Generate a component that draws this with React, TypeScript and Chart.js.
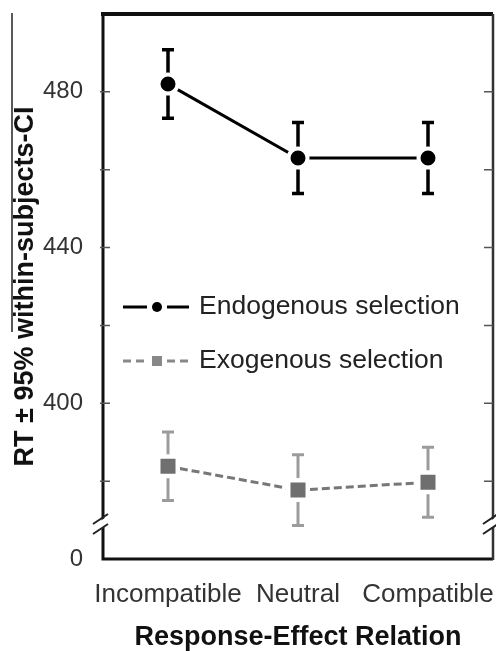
import React, { useEffect, useRef } from 'react';
import { Chart, registerables } from 'chart.js';

Chart.register(...registerables);

const categories = ['Incompatible', 'Neutral', 'Compatible'];
const endoLabel = 'Endogenous selection';
const exoLabel = 'Exogenous selection';
const endoRT = [482, 463, 463];
const endoCI = [8.8, 9.1, 9.1];
const exoRT = [383.8, 377.7, 379.7];
const exoCI = [8.8, 9.1, 9.0];
const yMin = 360;
const yMax = 500;
const yStep = 20;
const yTickLabels: Record<number, string> = { 360: '0', 400: '400', 440: '440', 480: '480' };
const yTickMarks = [380, 400, 420, 440, 460, 480];
const yBreakValue = 369;
const xTitle = 'Response-Effect Relation';
const yTitle = 'RT ± 95% within-subjects-CI';

const FONT = "'Liberation Sans', Arial, Helvetica, sans-serif";

const errorBars = [
  { ci: endoCI, color: '#000000', width: 3.5, cap: 6 },
  { ci: exoCI, color: '#9c9c9c', width: 3, cap: 6 },
];

const decor = {
  id: 'decor',
  beforeDatasetsDraw(chart: any) {
    const ctx = chart.ctx;
    const xs = chart.scales.x;
    const ys = chart.scales.y;
    chart.data.datasets.forEach((ds: any, i: number) => {
      const eb = errorBars[i];
      ctx.save();
      ctx.strokeStyle = eb.color;
      ctx.lineWidth = eb.width;
      ds.data.forEach((v: number, j: number) => {
        const px = xs.getPixelForValue(j);
        const top = ys.getPixelForValue(v + eb.ci[j]);
        const bot = ys.getPixelForValue(v - eb.ci[j]);
        ctx.beginPath();
        ctx.moveTo(px, top);
        ctx.lineTo(px, bot);
        ctx.moveTo(px - eb.cap, top);
        ctx.lineTo(px + eb.cap, top);
        ctx.moveTo(px - eb.cap, bot);
        ctx.lineTo(px + eb.cap, bot);
        ctx.stroke();
      });
      ctx.restore();
    });
  },
  afterDraw(chart: any) {
    const ctx = chart.ctx;
    const xs = chart.scales.x;
    const ys = chart.scales.y;
    const { left: L, right: R, top: T, bottom: B } = chart.chartArea;
    ctx.save();
    // frame
    ctx.strokeStyle = '#111';
    ctx.lineCap = 'butt';
    ctx.lineWidth = 4;
    ctx.beginPath();
    ctx.moveTo(L - 2, T);
    ctx.lineTo(R, T);
    ctx.stroke();
    ctx.lineWidth = 3;
    ctx.beginPath();
    ctx.moveTo(L, T);
    ctx.lineTo(L, B);
    ctx.lineTo(R, B);
    ctx.stroke();
    ctx.strokeStyle = '#333';
    ctx.lineWidth = 2.5;
    ctx.beginPath();
    ctx.moveTo(R, T);
    ctx.lineTo(R, B + 1);
    ctx.stroke();
    // tick marks
    ctx.strokeStyle = '#555';
    ctx.lineWidth = 1.5;
    yTickMarks.forEach((v) => {
      const py = ys.getPixelForValue(v);
      ctx.beginPath();
      ctx.moveTo(L - 3, py);
      ctx.lineTo(L + 7, py);
      ctx.moveTo(R - 9, py);
      ctx.lineTo(R, py);
      ctx.stroke();
    });
    // axis breaks
    const yb = ys.getPixelForValue(yBreakValue);
    [L, R].forEach((ax) => {
      ctx.fillStyle = '#fff';
      ctx.beginPath();
      ctx.moveTo(ax - 9, yb + 1);
      ctx.lineTo(ax + 5, yb - 8);
      ctx.lineTo(ax + 5, yb + 1);
      ctx.lineTo(ax - 9, yb + 9);
      ctx.closePath();
      ctx.fill();
      ctx.strokeStyle = '#222';
      ctx.lineWidth = 2;
      ctx.beginPath();
      ctx.moveTo(ax - 10, yb);
      ctx.lineTo(ax + 5, yb - 10);
      ctx.moveTo(ax - 10, yb + 10);
      ctx.lineTo(ax + 5, yb);
      ctx.stroke();
    });
    // y tick labels
    ctx.fillStyle = '#333';
    ctx.font = `24px ${FONT}`;
    ctx.textAlign = 'right';
    ctx.textBaseline = 'middle';
    ys.ticks.forEach((t: any) => {
      const lab = yTickLabels[t.value];
      if (lab) ctx.fillText(lab, L - 20, ys.getPixelForValue(t.value));
    });
    // x tick labels
    ctx.font = `26px ${FONT}`;
    ctx.textAlign = 'center';
    ctx.textBaseline = 'alphabetic';
    chart.data.labels.forEach((lab: string, j: number) => {
      ctx.fillText(lab, xs.getPixelForValue(j), B + 43);
    });
    // legend
    const legendItems = [
      { text: chart.data.datasets[0].label, y: 307, color: '#000', dash: [] as number[], style: 'circle' },
      { text: chart.data.datasets[1].label, y: 361, color: '#888', dash: [8, 5], style: 'rect' },
    ];
    legendItems.forEach((it) => {
      const x0 = L + 20;
      const x1 = L + 86;
      const cx = L + 54;
      ctx.strokeStyle = it.color;
      ctx.lineWidth = 3;
      ctx.setLineDash(it.dash);
      ctx.beginPath();
      ctx.moveTo(x0, it.y);
      ctx.lineTo(cx - 10, it.y);
      ctx.moveTo(cx + 10, it.y);
      ctx.lineTo(x1, it.y);
      ctx.stroke();
      ctx.setLineDash([]);
      ctx.fillStyle = it.color;
      if (it.style === 'circle') {
        ctx.beginPath();
        ctx.arc(cx, it.y, 5, 0, Math.PI * 2);
        ctx.fill();
      } else {
        ctx.fillRect(cx - 5, it.y - 5, 10, 10);
      }
      ctx.fillStyle = '#222';
      ctx.font = `26.5px ${FONT}`;
      ctx.textBaseline = 'middle';
      ctx.textAlign = 'left';
      ctx.fillText(it.text, L + 96, it.y);
    });
    // scan artifact line
    ctx.strokeStyle = '#222';
    ctx.lineWidth = 1.5;
    ctx.beginPath();
    ctx.moveTo(12, 13);
    ctx.lineTo(12, 332);
    ctx.stroke();
    ctx.restore();
  },
};

export default function App() {
  const ref = useRef<HTMLCanvasElement | null>(null);
  useEffect(() => {
    document.body.style.margin = '0';
    if (!ref.current) return;
    const chart = new Chart(ref.current, {
      type: 'line',
      data: {
        labels: categories,
        datasets: [
          {
            label: endoLabel,
            data: endoRT,
            borderColor: '#000',
            borderWidth: 3,
            pointStyle: 'circle',
            pointRadius: 9.5,
            pointBorderWidth: 4,
            pointBackgroundColor: '#000',
            pointBorderColor: '#fff',
            tension: 0,
          },
          {
            label: exoLabel,
            data: exoRT,
            borderColor: '#777777',
            borderWidth: 3,
            borderDash: [8, 4],
            pointStyle: 'rect',
            pointRadius: 13.8,
            pointBorderWidth: 4.5,
            pointBackgroundColor: '#6f6f6f',
            pointBorderColor: '#fff',
            tension: 0,
          },
        ],
      },
      options: {
        responsive: false,
        animation: false,
        layout: { autoPadding: false, padding: { top: 14, right: 3, left: 0, bottom: 0 } },
        plugins: { legend: { display: false }, tooltip: { enabled: false } },
        scales: {
          x: {
            type: 'category',
            offset: true,
            grid: { display: false, drawTicks: false },
            border: { display: false },
            ticks: { display: false },
            title: {
              display: true,
              text: xTitle,
              color: '#111',
              font: { size: 27, weight: 'bold', family: FONT, lineHeight: 1 },
              padding: { top: 0, bottom: 0 },
            },
            afterFit: (s: any) => {
              s.height = 92;
            },
          },
          y: {
            min: yMin,
            max: yMax,
            grid: { display: false, drawTicks: false },
            border: { display: false },
            ticks: { display: false, stepSize: yStep },
            title: {
              display: true,
              text: yTitle,
              color: '#111',
              font: { size: 27, weight: 'bold', family: FONT, lineHeight: 1 },
              padding: { top: 12, bottom: 0 },
            },
            afterFit: (s: any) => {
              s.width = 103;
            },
          },
        },
      },
      plugins: [decor],
    });
    return () => chart.destroy();
  }, []);
  return <canvas ref={ref} width={496} height={651} style={{ display: 'block' }} />;
}
